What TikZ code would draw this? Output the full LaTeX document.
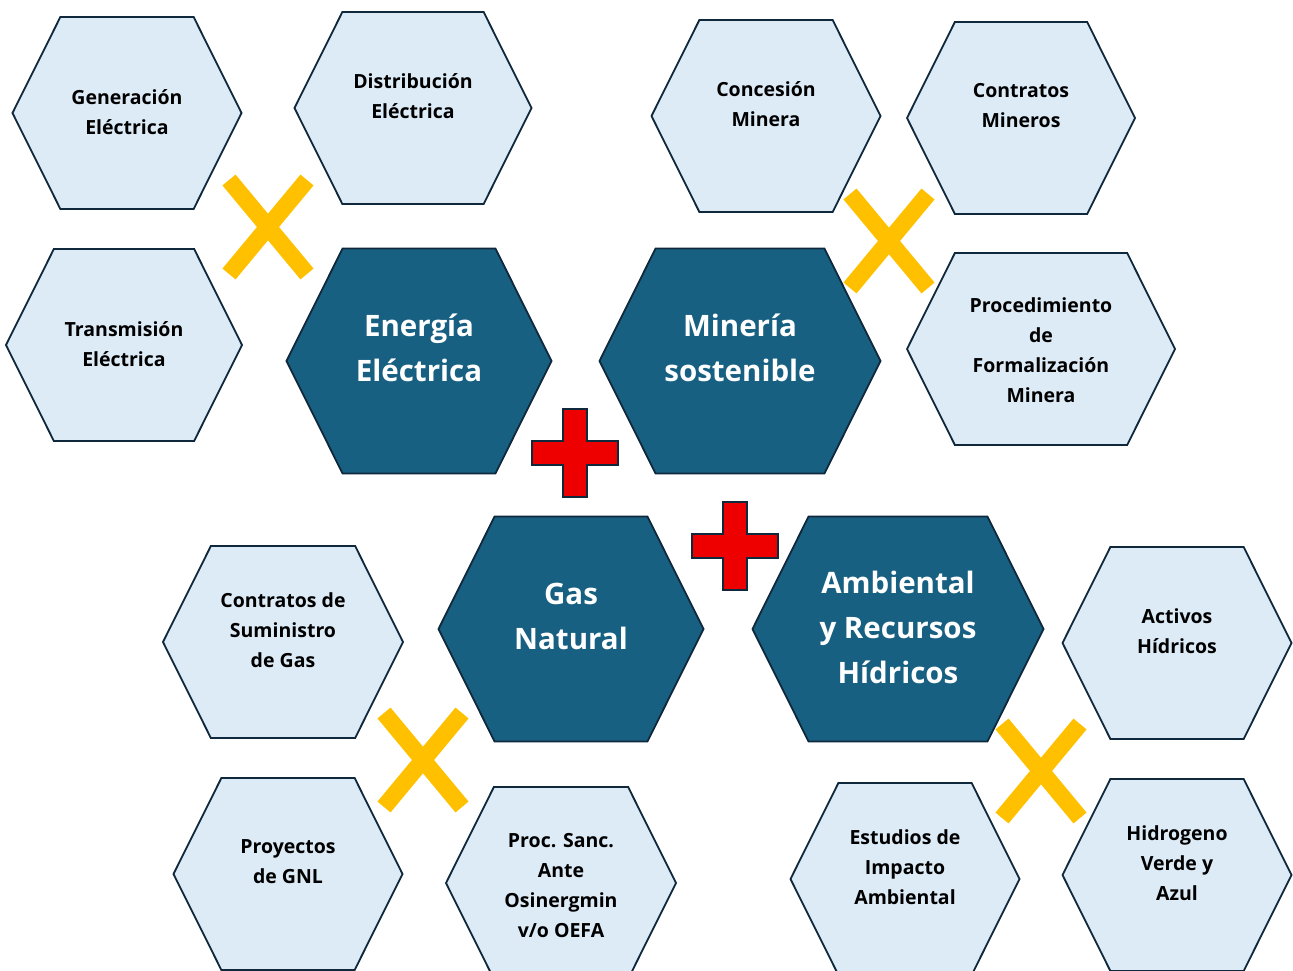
\documentclass[tikz,border=0pt]{standalone}
\usepackage{fontspec}
\setmainfont{Open Sans}
\usetikzlibrary{shapes.symbols}

\definecolor{hexlight}{RGB}{221,235,247}
\definecolor{hexdark}{RGB}{24,96,130}
\definecolor{hexline}{RGB}{16,40,60}
\definecolor{crossyellow}{RGB}{255,192,0}
\definecolor{plusred}{RGB}{238,0,0}

\tikzstyle{lhex} = [signal, signal to=east and west, signal pointer angle=127, draw=hexline, line width=1.8pt, fill=hexlight, minimum height=192pt, inner sep=0pt]
\tikzstyle{dhex} = [lhex, fill=hexdark, minimum height=225pt]
\tikzstyle{ltxt} = [align=center, font=\fontsize{19.5}{30}\selectfont\bfseries]
\tikzstyle{dtxt} = [align=center, text=white, font=\fontsize{29.5}{45}\selectfont\bfseries]
\tikzstyle{times} = [crossyellow, line width=17pt]
\tikzstyle{plus} = [draw=hexline, line width=1.8pt, fill=plusred]

\begin{document}
\begin{tikzpicture}[x=1pt, y=-1pt]
\clip (0,0) rectangle (1293,971);
% energia electrica
\node (gen) [lhex, minimum width=229pt] at (127,113) {};
\node (dis) [lhex, minimum width=237pt] at (413,108) {};
\node (tra) [lhex, minimum width=236pt] at (124,345) {};
\node (ene) [dhex, minimum width=265pt] at (419,361) {};
% mineria
\node (con) [lhex, minimum width=229pt] at (766,116) {};
\node (cmi) [lhex, minimum width=228pt] at (1021,118) {};
\node (pro) [lhex, minimum width=268pt] at (1041,349) {};
\node (min) [dhex, minimum width=281pt] at (740,361) {};
% gas natural
\node (sum) [lhex, minimum width=240pt] at (283,642) {};
\node (gnl) [lhex, minimum width=229pt] at (288,874) {};
\node (osi) [lhex, minimum width=230pt] at (561,883) {};
\node (gas) [dhex, minimum width=265pt] at (571,629) {};
% ambiental
\node (act) [lhex, minimum width=229pt] at (1177,643) {};
\node (eia) [lhex, minimum width=229pt] at (905,879) {};
\node (hid) [lhex, minimum width=229pt] at (1177,875) {};
\node (amb) [dhex, minimum width=291pt] at (898,629) {};

% textos
\node (gen-t) [ltxt] at (127,112) {Generación\\Eléctrica};
\node (dis-t) [ltxt] at (413,96) {Distribución\\Eléctrica};
\node (tra-t) [ltxt] at (124,344) {Transmisión\\Eléctrica};
\node (ene-t) [dtxt] at (419,348) {Energía\\Eléctrica};
\node (con-t) [ltxt] at (766,104) {Concesión\\Minera};
\node (cmi-t) [ltxt] at (1021,106) {Contratos\\Mineros};
\node (pro-t) [ltxt] at (1041,350) {Procedimiento\\de\\Formalización\\Minera};
\node (min-t) [dtxt] at (740,348) {Minería\\sostenible};
\node (sum-t) [ltxt] at (283,630) {Contratos de\\Suministro\\de Gas};
\node (gnl-t) [ltxt] at (288,862) {Proyectos\\de GNL};
\node (osi-t) [ltxt] at (561,886) {Proc. Sanc.\\Ante\\Osinergmin\\v/o OEFA};
\node (gas-t) [dtxt] at (571,616) {Gas\\Natural};
\node (act-t) [ltxt] at (1177,631) {Activos\\Hídricos};
\node (eia-t) [ltxt] at (905,867) {Estudios de\\Impacto\\Ambiental};
\node (hid-t) [ltxt] at (1177,863) {Hidrogeno\\Verde y\\Azul};
\node (amb-t) [dtxt] at (898,627) {Ambiental\\y Recursos\\Hídricos};

% cruces y sumas
\foreach \x/\y in {268/227, 889/241, 423/760, 1041/771} {
  \draw [times] (\x-39,\y-47) -- (\x+39,\y+47);
  \draw [times] (\x-39,\y+47) -- (\x+39,\y-47);
}
\foreach \x/\y in {575/453, 735/546}
  \draw [plus] (\x-12,\y-44) -- (\x+12,\y-44) -- (\x+12,\y-12) -- (\x+43,\y-12) -- (\x+43,\y+12) -- (\x+12,\y+12) -- (\x+12,\y+44) -- (\x-12,\y+44) -- (\x-12,\y+12) -- (\x-43,\y+12) -- (\x-43,\y-12) -- (\x-12,\y-12) -- cycle;
\end{tikzpicture}
\end{document}
